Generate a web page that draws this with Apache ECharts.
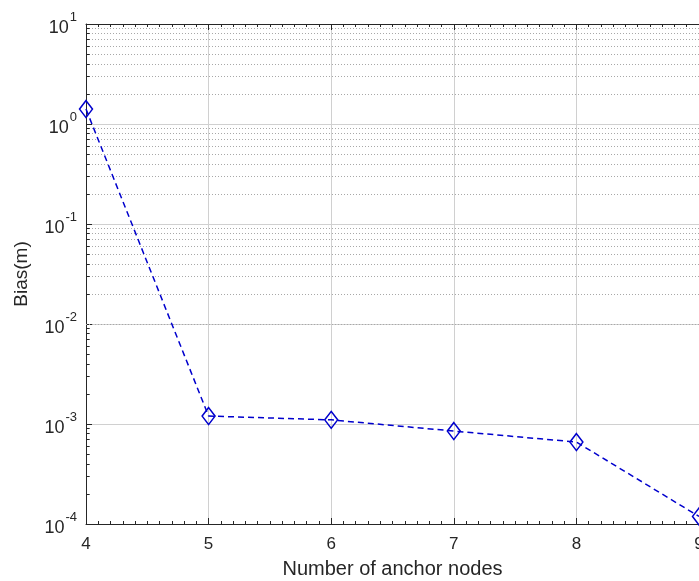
<!DOCTYPE html>
<html>
<head>
<meta charset="utf-8">
<script src="https://cdn.jsdelivr.net/npm/echarts@6/dist/echarts.min.js"></script>
<style>html,body{margin:0;padding:0;background:#fff;}#c{width:699px;height:581px;}</style>
</head>
<body>
<div id="c"></div>
<script>
// Data
const anchorNodes = [4, 5, 6, 7, 8, 9];
const bias = [1.41, 1.2e-3, 1.1e-3, 8.5e-4, 6.6e-4, 1.19e-4];
const xTickLabels = ['4', '5', '6', '7', '8', '9'];
const yDecades = [-4, -3, -2, -1, 0, 1];

const FONT = 'Liberation Sans';
const TXT = '#262626';
const AX = '#262626';

// minor grid values (2..9 x 10^d)
const minorVals = [];
for (let d = yDecades[0]; d < yDecades[yDecades.length - 1]; d++) {
  for (let m = 2; m <= 9; m++) minorVals.push(m * Math.pow(10, d));
}
const markData = [];
minorVals.forEach(v => {
  markData.push({ yAxis: v, lineStyle: { type: [1, 2], color: '#a8a8a8', width: 1 } });
});
minorVals.forEach(v => {
  markData.push([
    { coord: [anchorNodes[0], v], lineStyle: { type: 'solid', color: AX, width: 1 } },
    { coord: [anchorNodes[0] + 0.03, v] }
  ]);
});

const chart = echarts.init(document.getElementById('c'), null, { renderer: 'canvas' });
chart.setOption({
  animation: false,
  backgroundColor: '#fff',
  grid: { left: 86, right: 0, top: 24, bottom: 57, containLabel: false, outerBoundsMode: 'none' },
  xAxis: [{
    type: 'value', min: 4, max: 9, interval: 1, position: 'bottom',
    name: 'Number of anchor nodes', nameLocation: 'middle', nameGap: 35,
    nameTextStyle: { fontFamily: FONT, fontSize: 20, color: TXT },
    axisLine: { show: true, lineStyle: { color: AX, width: 1 } },
    axisTick: { show: true, inside: true, length: 6, lineStyle: { color: AX } },
    minorTick: { show: true, splitNumber: 10, length: 3, lineStyle: { color: AX } },
    axisLabel: { fontFamily: FONT, fontSize: 17, color: TXT, margin: 12,
      formatter: v => xTickLabels[anchorNodes.indexOf(v)] ?? '' },
    splitLine: { show: true, lineStyle: { color: '#d0d0d0', width: 1 } }
  }, {
    type: 'value', min: 4, max: 9, interval: 1, position: 'top',
    axisLine: { show: true, lineStyle: { color: AX, width: 1 } },
    axisTick: { show: true, inside: true, length: 6, lineStyle: { color: AX } },
    minorTick: { show: true, splitNumber: 10, length: 3, lineStyle: { color: AX } },
    axisLabel: { show: false },
    splitLine: { show: false }
  }],
  yAxis: {
    type: 'log', logBase: 10, min: 1e-4, max: 10,
    name: 'Bias(m)', nameLocation: 'middle', nameGap: 55, nameRotate: 90,
    nameTextStyle: { fontFamily: FONT, fontSize: 19, color: TXT },
    axisLine: { show: true, lineStyle: { color: AX, width: 1 } },
    axisTick: { show: true, inside: true, length: 6, lineStyle: { color: AX } },
    axisLabel: {
      margin: 9, fontFamily: FONT, color: TXT,
      formatter: v => '{b|10}{s|' + Math.round(Math.log10(v)) + '}',
      rich: {
        b: { fontFamily: FONT, fontSize: 18, color: TXT, padding: [8, 0, 0, 0] },
        s: { fontFamily: FONT, fontSize: 13, color: TXT, verticalAlign: 'top', padding: [0, 0, 8, 1] }
      }
    },
    splitLine: { show: true, lineStyle: { color: '#d0d0d0', width: 1 } }
  },
  series: [{
    type: 'line',
    data: anchorNodes.map((x, i) => [x, bias[i]]),
    symbol: 'diamond',
    symbolSize: [13, 17],
    showAllSymbol: true,
    lineStyle: { color: '#0000cd', width: 1.5, type: [6, 4] },
    itemStyle: { color: 'rgba(0,0,0,0)', borderColor: '#0000cd', borderWidth: 1.5 },
    z: 5,
    markLine: {
      silent: true, symbol: ['none', 'none'], label: { show: false },
      emphasis: { disabled: true },
      data: markData,
      z: 1
    }
  }]
});
</script>
</body>
</html>
